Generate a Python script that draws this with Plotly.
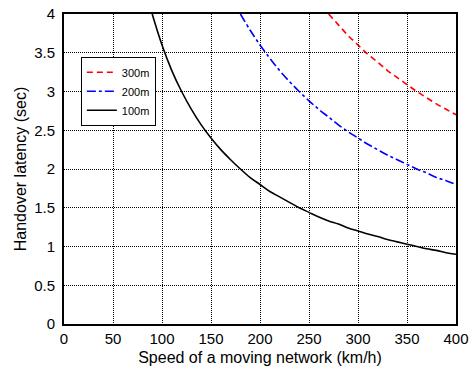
import plotly.graph_objects as go

speed_100 = [90, 100, 110, 120, 130, 140, 150, 160, 170, 180, 190, 200, 210, 220, 230, 240,
             250, 260, 270, 280, 290, 300, 310, 320, 330, 340, 350, 360, 370, 380, 390, 400]
lat_100 = [4.00, 3.60, 3.27, 3.00, 2.77, 2.57, 2.40, 2.25, 2.12, 2.00, 1.89, 1.80, 1.71, 1.64,
           1.57, 1.50, 1.44, 1.38, 1.33, 1.29, 1.24, 1.20, 1.16, 1.13, 1.09, 1.06, 1.03, 1.00,
           0.97, 0.95, 0.92, 0.90]
speed_200 = [180, 190, 200, 210, 220, 230, 240, 250, 260, 270, 280, 290, 300, 310, 320, 330,
             340, 350, 360, 370, 380, 390, 400]
lat_200 = [4.00, 3.79, 3.60, 3.43, 3.27, 3.13, 3.00, 2.88, 2.77, 2.67, 2.57, 2.48, 2.40, 2.32,
           2.25, 2.18, 2.12, 2.06, 2.00, 1.95, 1.89, 1.85, 1.80]
speed_300 = [270, 280, 290, 300, 310, 320, 330, 340, 350, 360, 370, 380, 390, 400]
lat_300 = [4.00, 3.86, 3.72, 3.60, 3.48, 3.38, 3.27, 3.18, 3.09, 3.00, 2.92, 2.84, 2.77, 2.70]

x_ticks = [0, 50, 100, 150, 200, 250, 300, 350, 400]
y_ticks = [0, 0.5, 1, 1.5, 2, 2.5, 3, 3.5, 4]
y_ticktext = ["0", "0.5", "1", "1.5", "2", "2.5", "3", "3.5", "4"]

fig = go.Figure()
fig.add_trace(go.Scatter(x=speed_300, y=lat_300, mode="lines", name="300m",
                         line=dict(color="#ff0000", dash="6px,4px", width=1.6, shape="spline")))
fig.add_trace(go.Scatter(x=speed_200, y=lat_200, mode="lines", name="200m",
                         line=dict(color="#0000ff", dash="dashdot", width=1.6, shape="spline")))
fig.add_trace(go.Scatter(x=speed_100, y=lat_100, mode="lines", name="100m",
                         line=dict(color="#000000", width=1.6, shape="spline")))

font_family = "Liberation Sans, Arial, sans-serif"
fig.update_layout(
    width=469, height=378,
    margin=dict(l=64, r=13, t=14, b=54, autoexpand=False),
    paper_bgcolor="white", plot_bgcolor="white",
    font=dict(family=font_family, color="black", size=15),
    legend=dict(x=0.043, y=0.862, xanchor="left", yanchor="top",
                bgcolor="white", bordercolor="black", borderwidth=1,
                font=dict(size=11), tracegroupgap=0, itemwidth=30),
    showlegend=True,
)
fig.update_xaxes(range=[0, 400], tickvals=x_ticks, showline=True, mirror=True,
                 linecolor="black", linewidth=2, showgrid=True, gridcolor="#000000",
                 griddash="1px,1px", gridwidth=1, zeroline=False, ticks="", automargin=False,
                 tickfont=dict(size=15),
                 title=dict(text="Speed of a moving network (km/h)", font=dict(size=16), standoff=6))
fig.update_yaxes(range=[0, 4], tickvals=y_ticks, ticktext=y_ticktext, showline=True, mirror=True,
                 linecolor="black", linewidth=2, showgrid=True, gridcolor="#000000",
                 griddash="1px,1px", gridwidth=1, zeroline=False, ticks="", automargin=False,
                 tickfont=dict(size=15), ticklabelstandoff=4,
                 title=dict(text="Handover latency (sec)", font=dict(size=16), standoff=4))

fig.write_html("out.html")
